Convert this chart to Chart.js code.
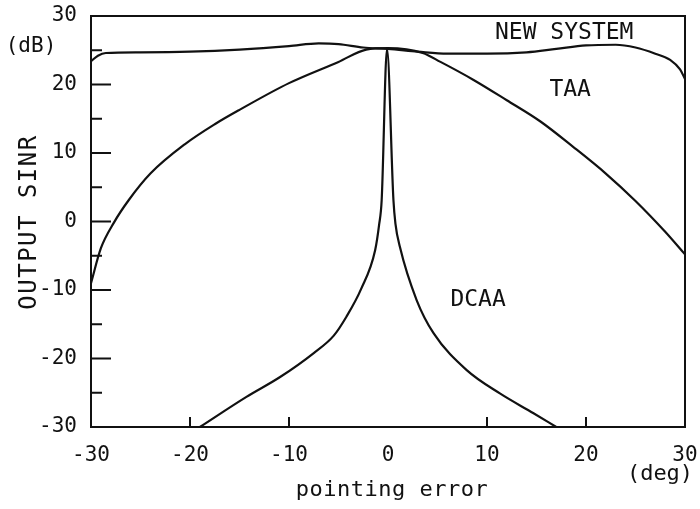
<!DOCTYPE html>
<html>
<head>
<meta charset="utf-8">
<script src="https://cdn.jsdelivr.net/npm/chart.js@4.4.0/dist/chart.umd.min.js"></script>
<style>
  html, body { margin: 0; padding: 0; background: #fff; }
  #wrap { width: 700px; height: 509px; }
</style>
</head>
<body>
<div id="wrap"><canvas id="sinrChart" width="700" height="509"></canvas></div>
<script>
// pointing error (deg) vs output SINR (dB)
const newSysDeg = [-30, -29.3, -28.5, -25, -20, -15, -10, -7, -5, -2.5, 0, 3, 6, 10, 14, 17, 20, 23, 25, 27, 28.5, 29.5, 30];
const newSysDb  = [23.4, 24.2, 24.6, 24.7, 24.8, 25.1, 25.6, 26.0, 25.9, 25.4, 25.2, 24.8, 24.5, 24.5, 24.7, 25.2, 25.7, 25.8, 25.4, 24.5, 23.6, 22.2, 20.8];

const taaDeg = [-30, -29, -27.7, -26.2, -24, -20.5, -17.5, -15, -10, -5, -2.2, 0, 3.5, 5.3, 8.6, 12, 15.4, 18.7, 22, 25, 28, 30];
const taaDb  = [-9, -3.9, -0.2, 3.1, 7, 11.3, 14.2, 16.3, 20.2, 23.3, 25.1, 25.3, 24.6, 23.3, 20.7, 17.7, 14.6, 10.9, 7.0, 3.0, -1.5, -4.8];

const dcaaDeg = [-19, -14.3, -10.9, -7.5, -5.5, -4.2, -2.7, -1.3, -0.9, -0.64, -0.1, 0.55, 0.75, 1.2, 2.9, 4.6, 7.95, 11.3, 14.7, 17];
const dcaaDb  = [-30, -25.6, -22.7, -19.2, -16.7, -13.9, -9.8, -4.2, -0.5, 3.1, 25.2, 3.1, -0.3, -3.7, -11.5, -16.3, -21.7, -25.1, -28, -30];

const xTicks = [-30, -20, -10, 0, 10, 20, 30];
const yTicks = [-30, -20, -10, 0, 10, 20, 30];

const curveLabels = ['NEW SYSTEM', 'TAA', 'DCAA'];
const curveLabelDeg = [17.8, 18.4, 9.1];
const curveLabelDb = [27.5, 19.2, -11.5];

const ink = '#111';
const mono = '"DejaVu Sans Mono", monospace';

function toPoints(xs, ys) {
    return xs.map((x, i) => ({ x: x, y: ys[i] }));
}

const framePlugin = {
    id: 'frame',
    afterDraw(chart) {
        const { ctx, chartArea: a, scales } = chart;
        const xs = scales.x, ys = scales.y;
        ctx.save();
        ctx.strokeStyle = ink;
        ctx.lineWidth = 2;
        ctx.strokeRect(a.left, a.top, a.right - a.left, a.bottom - a.top);

        // inward ticks on the left axis, long at 10s, short at 5s
        ctx.beginPath();
        for (let v = -25; v <= 25; v += 5) {
            const py = ys.getPixelForValue(v);
            const len = (v % 10 === 0) ? 20 : 11;
            ctx.moveTo(a.left, py);
            ctx.lineTo(a.left + len, py);
        }
        // inward ticks on the bottom axis
        [-20, -10, 10, 20].forEach(v => {
            const px = xs.getPixelForValue(v);
            ctx.moveTo(px, a.bottom);
            ctx.lineTo(px, a.bottom - 10);
        });
        ctx.stroke();

        ctx.fillStyle = ink;
        ctx.textBaseline = 'middle';
        ctx.textAlign = 'center';
        ctx.font = '23px ' + mono;
        curveLabels.forEach((t, i) => {
            ctx.fillText(t, xs.getPixelForValue(curveLabelDeg[i]), ys.getPixelForValue(curveLabelDb[i]));
        });

        ctx.font = '21px ' + mono;
        ctx.fillText('(dB)', 31, 47);
        ctx.font = '22px ' + mono;
        ctx.fillText('(deg)', 660, 474);
        ctx.letterSpacing = '0.5px';
        ctx.fillText('pointing error', 392, 490);

        ctx.font = '24px ' + mono;
        ctx.letterSpacing = '1.5px';
        ctx.translate(30, 222);
        ctx.rotate(-Math.PI / 2);
        ctx.fillText('OUTPUT SINR', 0, 0);
        ctx.restore();
    }
};

const lineStyle = {
    borderColor: ink,
    borderWidth: 2.2,
    pointRadius: 0,
    fill: false,
    cubicInterpolationMode: 'monotone'
};

new Chart(document.getElementById('sinrChart'), {
    type: 'line',
    data: {
        datasets: [
            Object.assign({ label: 'NEW SYSTEM', data: toPoints(newSysDeg, newSysDb) }, lineStyle),
            Object.assign({ label: 'TAA', data: toPoints(taaDeg, taaDb) }, lineStyle),
            Object.assign({ label: 'DCAA', data: toPoints(dcaaDeg, dcaaDb) }, lineStyle)
        ]
    },
    options: {
        responsive: false,
        animation: false,
        layout: { padding: { top: 16, right: 15, left: 0, bottom: 0 } },
        plugins: {
            legend: { display: false },
            tooltip: { enabled: false }
        },
        scales: {
            x: {
                type: 'linear',
                min: -30,
                max: 30,
                afterFit: s => { s.height = 82; s.paddingRight = 0; s.paddingLeft = 0; },
                afterBuildTicks: s => { s.ticks = xTicks.map(v => ({ value: v })); },
                grid: { display: false },
                border: { display: false },
                ticks: {
                    color: ink,
                    padding: 8,
                    font: { family: mono, size: 21 }
                }
            },
            y: {
                min: -30,
                max: 30,
                afterFit: s => { s.width = 91; s.paddingTop = 0; s.paddingBottom = 0; },
                afterBuildTicks: s => { s.ticks = yTicks.map(v => ({ value: v })); },
                grid: { display: false },
                border: { display: false },
                ticks: {
                    color: ink,
                    padding: 6,
                    font: { family: mono, size: 21 }
                }
            }
        }
    },
    plugins: [framePlugin]
});
</script>
</body>
</html>
